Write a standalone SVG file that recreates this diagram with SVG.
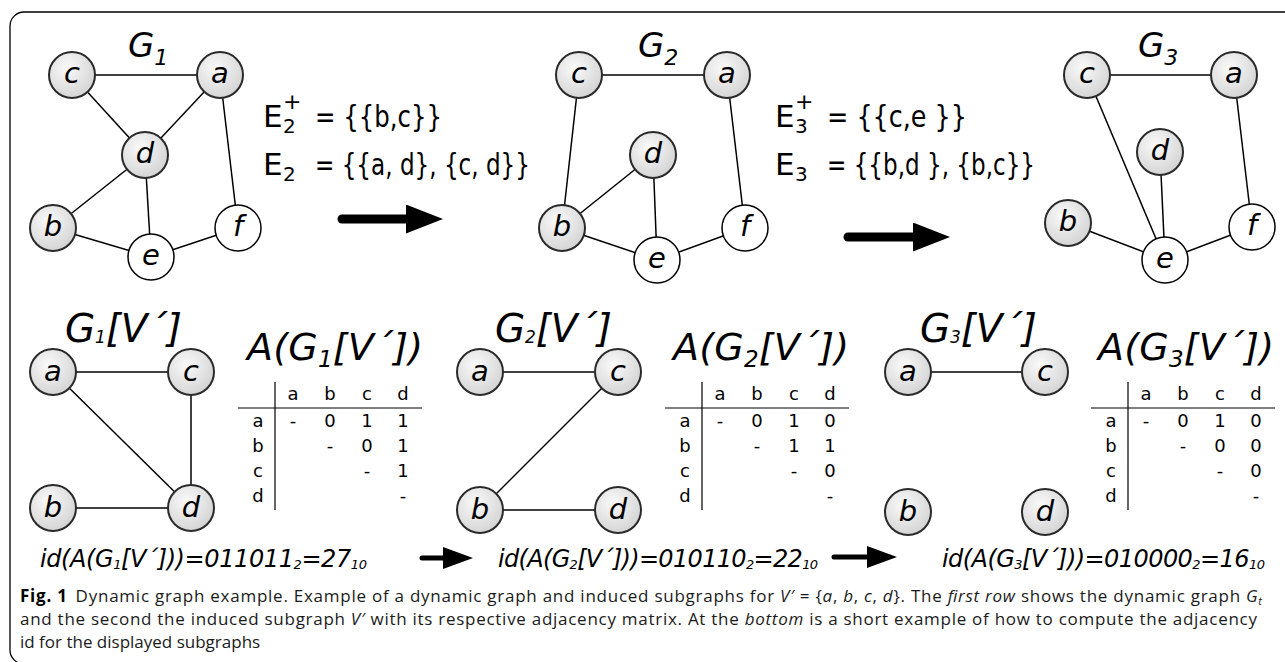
<svg xmlns="http://www.w3.org/2000/svg" width="1285" height="662" viewBox="0 0 1285 662">
<style>
text{font-family:"DejaVu Sans","Liberation Sans",sans-serif;fill:#000}
.frame{fill:#fff;stroke:#000;stroke-width:1.3}
.edge{stroke:#000;stroke-width:1.5;fill:none}
.ng{fill:url(#gg);stroke:#2a2a2a;stroke-width:2}
.nw{fill:#fff;stroke:#000;stroke-width:1.5}
.nl{font-style:italic;font-size:29px;text-anchor:middle}
.gl{font-style:italic;font-size:34px}
.bl{font-style:italic;font-size:39px}
.al{font-style:italic;font-size:38px}
.idl{font-style:italic;font-size:24px}
.el{font-size:31px}
.m{font-size:18px;text-anchor:middle}
.tl{stroke:#000;stroke-width:1.2}
.big{stroke:#000;stroke-width:9;stroke-linecap:round;fill:none}
.small{stroke:#000;stroke-width:5;stroke-linecap:round;fill:none}
.cap{font-family:"Open Sans","Noto Sans",sans-serif;font-size:17px;fill:#1a1a1a}
</style>
<defs>
<radialGradient id="gg" cx="0.4" cy="0.35" r="0.7">
<stop offset="0" stop-color="#fafafa"/>
<stop offset="1" stop-color="#d2d2d2"/>
</radialGradient>
<marker id="hb" viewBox="0 0 37 29" markerWidth="37" markerHeight="29" refX="4" refY="14.5" markerUnits="userSpaceOnUse" orient="auto">
<path d="M0,0 L37,14.5 L0,29 Z" fill="#000"/>
</marker>
<marker id="hs" viewBox="0 0 30 22" markerWidth="30" markerHeight="22" refX="4" refY="11" markerUnits="userSpaceOnUse" orient="auto">
<path d="M0,0 L30,11 L0,22 Z" fill="#000"/>
</marker>
</defs>
<rect class="frame" x="10" y="12" width="1295" height="652" rx="14"/>

<g id="connectors">
<!-- G1 -->
<line class="edge" x1="72" y1="75" x2="220" y2="75"/>
<line class="edge" x1="72" y1="75" x2="145" y2="155"/>
<line class="edge" x1="220" y1="75" x2="145" y2="155"/>
<line class="edge" x1="220" y1="75" x2="238" y2="228"/>
<line class="edge" x1="145" y1="155" x2="53" y2="228"/>
<line class="edge" x1="145" y1="155" x2="151" y2="257"/>
<line class="edge" x1="53" y1="228" x2="151" y2="257"/>
<line class="edge" x1="151" y1="257" x2="238" y2="228"/>
<!-- G2 -->
<line class="edge" x1="579" y1="75" x2="727" y2="75"/>
<line class="edge" x1="579" y1="75" x2="562" y2="228"/>
<line class="edge" x1="727" y1="75" x2="745" y2="228"/>
<line class="edge" x1="653" y1="155" x2="562" y2="228"/>
<line class="edge" x1="653" y1="155" x2="657" y2="260"/>
<line class="edge" x1="562" y1="228" x2="657" y2="260"/>
<line class="edge" x1="657" y1="260" x2="745" y2="228"/>
<!-- G3 -->
<line class="edge" x1="1087" y1="75" x2="1234" y2="75"/>
<line class="edge" x1="1087" y1="75" x2="1165" y2="260"/>
<line class="edge" x1="1234" y1="75" x2="1252" y2="227"/>
<line class="edge" x1="1160" y1="152" x2="1165" y2="260"/>
<line class="edge" x1="1068" y1="223" x2="1165" y2="260"/>
<line class="edge" x1="1165" y1="260" x2="1252" y2="227"/>
<!-- G1[V'] -->
<line class="edge" x1="53" y1="372" x2="191" y2="372"/>
<line class="edge" x1="53" y1="372" x2="191" y2="508"/>
<line class="edge" x1="191" y1="372" x2="191" y2="508"/>
<line class="edge" x1="53" y1="508" x2="191" y2="508"/>
<!-- G2[V'] -->
<line class="edge" x1="480" y1="372" x2="618" y2="372"/>
<line class="edge" x1="618" y1="372" x2="480" y2="510"/>
<line class="edge" x1="480" y1="510" x2="618" y2="510"/>
<!-- G3[V'] -->
<line class="edge" x1="908" y1="372" x2="1045" y2="372"/>
<!-- transition arrows -->
<line class="big" x1="342" y1="219" x2="410" y2="219" marker-end="url(#hb)"/>
<line class="big" x1="848" y1="237" x2="917" y2="237" marker-end="url(#hb)"/>
<line class="small" x1="422" y1="558" x2="447" y2="558" marker-end="url(#hs)"/>
<line class="small" x1="834" y1="557" x2="871" y2="557" marker-end="url(#hs)"/>
</g>

<!-- Row 1: G1 -->
<g id="g1-label"><text class="gl" x="128" y="57">G<tspan font-size="22" dy="8">1</tspan></text></g>
<g id="g1-c"><circle class="ng" cx="72" cy="75" r="23"/><text class="nl" x="72" y="83">c</text></g>
<g id="g1-a"><circle class="ng" cx="220" cy="75" r="23"/><text class="nl" x="220" y="83">a</text></g>
<g id="g1-d"><circle class="ng" cx="145" cy="155" r="23"/><text class="nl" x="145" y="163">d</text></g>
<g id="g1-b"><circle class="ng" cx="53" cy="228" r="23"/><text class="nl" x="53" y="236">b</text></g>
<g id="g1-e"><circle class="nw" cx="151" cy="257" r="23"/><text class="nl" x="151" y="265">e</text></g>
<g id="g1-f"><circle class="nw" cx="238" cy="228" r="23"/><text class="nl" x="238" y="236">f</text></g>

<g id="e2-labels">
<text class="el" x="263" y="127">E</text>
<text x="283" y="133" font-size="20">2</text>
<text x="283" y="109" font-size="22">+</text>
<text class="el" x="315" y="127" textLength="127" lengthAdjust="spacingAndGlyphs">= {{b,c}}</text>
<text class="el" x="263" y="175">E</text>
<text x="283" y="181" font-size="20">2</text>
<text class="el" x="315" y="175" textLength="215" lengthAdjust="spacingAndGlyphs">= {{a, d}, {c, d}}</text>
</g>

<!-- Row 1: G2 -->
<g id="g2-label"><text class="gl" x="638" y="57">G<tspan font-size="22" dy="8">2</tspan></text></g>
<g id="g2-c"><circle class="ng" cx="579" cy="75" r="23"/><text class="nl" x="579" y="83">c</text></g>
<g id="g2-a"><circle class="ng" cx="727" cy="75" r="23"/><text class="nl" x="727" y="83">a</text></g>
<g id="g2-d"><circle class="ng" cx="653" cy="155" r="23"/><text class="nl" x="653" y="163">d</text></g>
<g id="g2-b"><circle class="ng" cx="562" cy="228" r="23"/><text class="nl" x="562" y="236">b</text></g>
<g id="g2-e"><circle class="nw" cx="657" cy="260" r="23"/><text class="nl" x="657" y="268">e</text></g>
<g id="g2-f"><circle class="nw" cx="745" cy="228" r="23"/><text class="nl" x="745" y="236">f</text></g>

<g id="e3-labels">
<text class="el" x="775" y="127">E</text>
<text x="795" y="133" font-size="20">3</text>
<text x="795" y="109" font-size="22">+</text>
<text class="el" x="827" y="127" textLength="140" lengthAdjust="spacingAndGlyphs">= {{c,e }}</text>
<text class="el" x="775" y="175">E</text>
<text x="795" y="181" font-size="20">3</text>
<text class="el" x="827" y="175" textLength="208" lengthAdjust="spacingAndGlyphs">= {{b,d }, {b,c}}</text>
</g>

<!-- Row 1: G3 -->
<g id="g3-label"><text class="gl" x="1138" y="57">G<tspan font-size="22" dy="8">3</tspan></text></g>
<g id="g3-c"><circle class="ng" cx="1087" cy="75" r="23"/><text class="nl" x="1087" y="83">c</text></g>
<g id="g3-a"><circle class="ng" cx="1234" cy="75" r="23"/><text class="nl" x="1234" y="83">a</text></g>
<g id="g3-d"><circle class="ng" cx="1160" cy="152" r="23"/><text class="nl" x="1160" y="160">d</text></g>
<g id="g3-b"><circle class="ng" cx="1068" cy="223" r="23"/><text class="nl" x="1068" y="231">b</text></g>
<g id="g3-e"><circle class="nw" cx="1165" cy="260" r="23"/><text class="nl" x="1165" y="268">e</text></g>
<g id="g3-f"><circle class="nw" cx="1252" cy="227" r="23"/><text class="nl" x="1252" y="235">f</text></g>

<!-- Row 2: G1[V'] -->
<g id="s1-label"><text class="bl" x="65" y="342" textLength="117">G<tspan font-size="17" dy="1">1</tspan><tspan dy="-1">[V´]</tspan></text></g>
<g id="s1-a"><circle class="ng" cx="53" cy="372" r="23"/><text class="nl" x="53" y="381">a</text></g>
<g id="s1-c"><circle class="ng" cx="191" cy="372" r="23"/><text class="nl" x="191" y="381">c</text></g>
<g id="s1-b"><circle class="ng" cx="53" cy="508" r="23"/><text class="nl" x="53" y="517">b</text></g>
<g id="s1-d"><circle class="ng" cx="191" cy="508" r="23"/><text class="nl" x="191" y="517">d</text></g>
<g id="m1">
<text class="al" x="247" y="360" textLength="176">A(G<tspan font-size="23" dy="7">1</tspan><tspan dy="-7">[V´])</tspan></text>
<line class="tl" x1="275" y1="382" x2="275" y2="510"/>
<line class="tl" x1="238" y1="408" x2="422" y2="408"/>
<text class="m" x="293" y="400">a</text><text class="m" x="330" y="400">b</text><text class="m" x="367" y="400">c</text><text class="m" x="403" y="400">d</text>
<text class="m" x="258" y="427">a</text><text class="m" x="258" y="452">b</text><text class="m" x="258" y="477">c</text><text class="m" x="258" y="502">d</text>
<text class="m" x="293" y="427">-</text><text class="m" x="330" y="427">0</text><text class="m" x="367" y="427">1</text><text class="m" x="403" y="427">1</text>
<text class="m" x="330" y="452">-</text><text class="m" x="367" y="452">0</text><text class="m" x="403" y="452">1</text>
<text class="m" x="367" y="477">-</text><text class="m" x="403" y="477">1</text>
<text class="m" x="403" y="502">-</text>
</g>
<g id="id1"><text class="idl" x="40" y="567" textLength="327">id(A(G<tspan font-size="13" dy="2">1</tspan><tspan dy="-2">[V´]))=011011</tspan><tspan font-size="13" dy="2">2</tspan><tspan dy="-2">=27</tspan><tspan font-size="13" dy="2">10</tspan></text></g>

<!-- Row 2: G2[V'] -->
<g id="s2-label"><text class="bl" x="495" y="342" textLength="117">G<tspan font-size="17" dy="1">2</tspan><tspan dy="-1">[V´]</tspan></text></g>
<g id="s2-a"><circle class="ng" cx="480" cy="372" r="23"/><text class="nl" x="480" y="381">a</text></g>
<g id="s2-c"><circle class="ng" cx="618" cy="372" r="23"/><text class="nl" x="618" y="381">c</text></g>
<g id="s2-b"><circle class="ng" cx="480" cy="510" r="23"/><text class="nl" x="480" y="519">b</text></g>
<g id="s2-d"><circle class="ng" cx="618" cy="510" r="23"/><text class="nl" x="618" y="519">d</text></g>
<g id="m2">
<text class="al" x="673" y="360" textLength="176">A(G<tspan font-size="23" dy="7">2</tspan><tspan dy="-7">[V´])</tspan></text>
<line class="tl" x1="702" y1="382" x2="702" y2="510"/>
<line class="tl" x1="665" y1="408" x2="849" y2="408"/>
<text class="m" x="720" y="400">a</text><text class="m" x="757" y="400">b</text><text class="m" x="794" y="400">c</text><text class="m" x="830" y="400">d</text>
<text class="m" x="685" y="427">a</text><text class="m" x="685" y="452">b</text><text class="m" x="685" y="477">c</text><text class="m" x="685" y="502">d</text>
<text class="m" x="720" y="427">-</text><text class="m" x="757" y="427">0</text><text class="m" x="794" y="427">1</text><text class="m" x="830" y="427">0</text>
<text class="m" x="757" y="452">-</text><text class="m" x="794" y="452">1</text><text class="m" x="830" y="452">1</text>
<text class="m" x="794" y="477">-</text><text class="m" x="830" y="477">0</text>
<text class="m" x="830" y="502">-</text>
</g>
<g id="id2"><text class="idl" x="498" y="567" textLength="320">id(A(G<tspan font-size="13" dy="2">2</tspan><tspan dy="-2">[V´]))=010110</tspan><tspan font-size="13" dy="2">2</tspan><tspan dy="-2">=22</tspan><tspan font-size="13" dy="2">10</tspan></text></g>

<!-- Row 2: G3[V'] -->
<g id="s3-label"><text class="bl" x="920" y="342" textLength="117">G<tspan font-size="17" dy="1">3</tspan><tspan dy="-1">[V´]</tspan></text></g>
<g id="s3-a"><circle class="ng" cx="908" cy="372" r="23"/><text class="nl" x="908" y="381">a</text></g>
<g id="s3-c"><circle class="ng" cx="1045" cy="372" r="23"/><text class="nl" x="1045" y="381">c</text></g>
<g id="s3-b"><circle class="ng" cx="908" cy="512" r="23"/><text class="nl" x="908" y="521">b</text></g>
<g id="s3-d"><circle class="ng" cx="1045" cy="512" r="23"/><text class="nl" x="1045" y="521">d</text></g>
<g id="m3">
<text class="al" x="1098" y="360" textLength="176">A(G<tspan font-size="23" dy="7">3</tspan><tspan dy="-7">[V´])</tspan></text>
<line class="tl" x1="1128" y1="382" x2="1128" y2="510"/>
<line class="tl" x1="1091" y1="408" x2="1275" y2="408"/>
<text class="m" x="1146" y="400">a</text><text class="m" x="1183" y="400">b</text><text class="m" x="1220" y="400">c</text><text class="m" x="1256" y="400">d</text>
<text class="m" x="1111" y="427">a</text><text class="m" x="1111" y="452">b</text><text class="m" x="1111" y="477">c</text><text class="m" x="1111" y="502">d</text>
<text class="m" x="1146" y="427">-</text><text class="m" x="1183" y="427">0</text><text class="m" x="1220" y="427">1</text><text class="m" x="1256" y="427">0</text>
<text class="m" x="1183" y="452">-</text><text class="m" x="1220" y="452">0</text><text class="m" x="1256" y="452">0</text>
<text class="m" x="1220" y="477">-</text><text class="m" x="1256" y="477">0</text>
<text class="m" x="1256" y="502">-</text>
</g>
<g id="id3"><text class="idl" x="942" y="567" textLength="323">id(A(G<tspan font-size="13" dy="2">3</tspan><tspan dy="-2">[V´]))=010000</tspan><tspan font-size="13" dy="2">2</tspan><tspan dy="-2">=16</tspan><tspan font-size="13" dy="2">10</tspan></text></g>

<!-- Caption -->
<g id="caption">
<text class="cap" x="20" y="602" textLength="1242"><tspan font-weight="bold" fill="#000">Fig. 1</tspan><tspan dx="8">Dynamic graph example. Example of a dynamic graph and induced subgraphs for </tspan><tspan font-style="italic">V′</tspan> = {<tspan font-style="italic">a</tspan>, <tspan font-style="italic">b</tspan>, <tspan font-style="italic">c</tspan>, <tspan font-style="italic">d</tspan>}. The <tspan font-style="italic">first row</tspan> shows the dynamic graph <tspan font-style="italic">G</tspan><tspan font-style="italic" font-size="11" dy="3">t</tspan></text>
<text class="cap" x="20" y="625" textLength="1237">and the second the induced subgraph <tspan font-style="italic">V′</tspan> with its respective adjacency matrix. At the <tspan font-style="italic">bottom</tspan> is a short example of how to compute the adjacency</text>
<text class="cap" x="20" y="648">id for the displayed subgraphs</text>
</g>
</svg>
